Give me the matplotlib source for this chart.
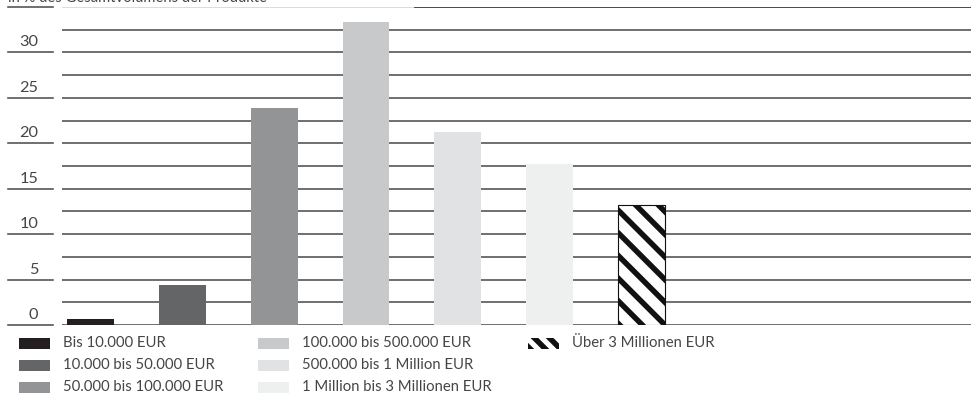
import numpy as np
import matplotlib
matplotlib.use("Agg")
import matplotlib.pyplot as plt
from matplotlib.patches import Rectangle

# share of total product volume per size class (%)
categories = ["Bis 10.000 EUR", "10.000 bis 50.000 EUR", "50.000 bis 100.000 EUR",
              "100.000 bis 500.000 EUR", "500.000 bis 1 Million EUR",
              "1 Million bis 3 Millionen EUR", "Über 3 Millionen EUR"]
values = [0.7, 4.4, 23.9, 33.4, 21.2, 17.7, 13.2]
colors = ["#231f20", "#646567", "#939495", "#c8c9ca", "#e1e2e3", "#eeefef", "white"]
hatches = ["", "", "", "", "", "", "\\\\"]
tick_values = [0, 5, 10, 15, 20, 25, 30]
title = "in % des Gesamtvolumens der Produkte"

plt.rcParams['font.family'] = ['Lato', 'DejaVu Sans']
plt.rcParams['hatch.linewidth'] = 2.9

DPI = 136
W, H = 971, 396
fig = plt.figure(figsize=(W / DPI, H / DPI), dpi=DPI)
ax = fig.add_axes([62 / W, (H - 325) / H, (W - 62) / W, (325 - 7) / H])
ax.set_xlim(-0.31, 9.59)
ax.set_ylim(0, 35)
ax.axis('off')

text_col = "#454545"
line_col = "#505050"

# horizontal rules
for y in np.arange(0, 35, 2.5):
    ax.axhline(y, color=line_col, lw=0.85, zorder=0)
split = (415 - 62) / (W - 62)
ax.axhline(35, xmax=split, color="#d4d4d4", lw=0.85, zorder=0)
ax.axhline(35, xmin=split, color="#222222", lw=0.85, zorder=0)

# short rules and labels left of the plot
ytr = ax.get_yaxis_transform()
for v in range(0, 36, 5):
    ax.plot([-0.0594, -0.0099], [v, v], transform=ytr, clip_on=False,
            color=line_col, lw=0.85)
for v in tick_values:
    ax.text(-0.026, v + 1.1, str(v), transform=ytr, ha='right', va='center',
            fontsize=8.6, color=text_col)

bars = ax.bar(np.arange(len(values)), values, width=0.51, color=colors,
              linewidth=0, zorder=2)
for b, h in zip(bars, hatches):
    if h:
        b.set_hatch(h)
        b.set_edgecolor("#111111")
        b.set_linewidth(0.6)

# legend (hatched key drawn a little denser so the stripes show in the small box)
col_x = [19, 258, 528]
row_y = [343, 365, 387]
for i, (lab, c, h) in enumerate(zip(categories, colors, hatches)):
    x = col_x[i // 3]
    y = row_y[i % 3]
    fig.add_artist(Rectangle((x / W, 1 - (y + 5.5) / H), 31 / W, 11 / H,
                             transform=fig.transFigure, facecolor=c,
                             edgecolor="#111111" if h else c,
                             hatch=(h + "\\") if h else None, lw=0))
    fig.text((x + 44) / W, 1 - y / H, lab, ha='left', va='center',
             fontsize=7.9, color=text_col)

fig.text(8 / W, 1 - 2 / H, title, ha='left', va='baseline', fontsize=7.8,
         color=text_col)

fig.savefig("out.png", dpi=DPI, facecolor="white")
